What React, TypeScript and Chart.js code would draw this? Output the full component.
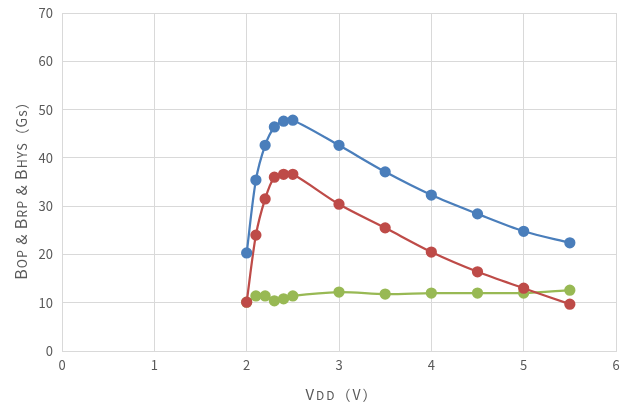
import React, { useEffect, useRef } from "react";
import { Chart, registerables } from "chart.js";
Chart.register(...registerables);

const vdd = [2, 2.1, 2.2, 2.3, 2.4, 2.5, 3, 3.5, 4, 4.5, 5, 5.5];
const bop = [20.3, 35.4, 42.6, 46.4, 47.6, 47.8, 42.6, 37.1, 32.3, 28.4, 24.8, 22.4];
const brp = [10.1, 24.0, 31.5, 36.0, 36.6, 36.6, 30.4, 25.5, 20.5, 16.4, 13.0, 9.7];
const bhys = [10.1, 11.4, 11.4, 10.4, 10.8, 11.4, 12.2, 11.8, 12.0, 12.0, 12.0, 12.6];

const FONT = "'Noto Sans CJK SC', 'Noto Sans', sans-serif";
const TXT = "#595959";

const yTitle: [string, number][] = [
  ["B", 16], ["OP", 12.5], [" & ", 15], ["B", 16], ["RP", 12.5], [" & ", 15], ["B", 16], ["HYS", 12.5], ["（Gs）", 14],
];
const xTitle: [string, number][] = [["V", 15], ["DD", 12], ["（V）", 14]];

function drawSegs(ctx: CanvasRenderingContext2D, segs: [string, number][], spacing: number) {
  (ctx as any).letterSpacing = `${spacing}px`;
  let total = 0;
  for (const [t, s] of segs) {
    ctx.font = `${s}px ${FONT}`;
    total += ctx.measureText(t).width;
  }
  let x = -total / 2;
  ctx.textBaseline = "alphabetic";
  ctx.textAlign = "left";
  for (const [t, s] of segs) {
    ctx.font = `${s}px ${FONT}`;
    ctx.fillText(t, x, 0);
    x += ctx.measureText(t).width;
  }
  (ctx as any).letterSpacing = "0px";
}

const titlesPlugin = {
  id: "titles",
  afterDraw(chart: any) {
    const ctx = chart.ctx as CanvasRenderingContext2D;
    const a = chart.chartArea;
    ctx.save();
    ctx.fillStyle = TXT;
    ctx.translate(27, (a.top + a.bottom) / 2 + 5);
    ctx.rotate(-Math.PI / 2);
    drawSegs(ctx, yTitle, 1);
    ctx.restore();
    ctx.save();
    ctx.fillStyle = TXT;
    ctx.translate((a.left + a.right) / 2 + 3, 400);
    drawSegs(ctx, xTitle, 2);
    ctx.restore();
  },
};

function mk(label: string, data: number[], color: string) {
  return {
    label,
    data: vdd.map((x, i) => ({ x, y: data[i] })),
    borderColor: color,
    backgroundColor: color,
    borderWidth: 2.25,
    pointRadius: 4.5,
    pointHoverRadius: 4.5,
    showLine: true,
    tension: 0.3,
  };
}

export default function App() {
  const ref = useRef<HTMLCanvasElement>(null);
  useEffect(() => {
    const chart = new Chart(ref.current!, {
      type: "scatter",
      data: {
        datasets: [
          mk("BOP", bop, "#4A7EBB"),
          mk("BRP", brp, "#BE4B48"),
          mk("BHYS", bhys, "#98B954"),
        ],
      },
      options: {
        animation: false,
        responsive: false,
        layout: { padding: { top: 13, right: 18, left: 0, bottom: 0 } },
        plugins: { legend: { display: false }, tooltip: { enabled: false } },
        scales: {
          x: {
            type: "linear",
            min: 0,
            max: 6,
            ticks: { stepSize: 1, color: TXT, font: { size: 13, family: FONT }, padding: 6 },
            grid: { color: "#D9D9D9", lineWidth: 1, drawTicks: false },
            border: { color: "#D9D9D9" },
            afterFit: (s: any) => { s.height = 57; s.paddingLeft = 0; s.paddingRight = 0; },
          },
          y: {
            min: 0,
            max: 70,
            ticks: { stepSize: 10, color: TXT, font: { size: 13, family: FONT }, padding: 9 },
            grid: { color: "#D9D9D9", lineWidth: 1, drawTicks: false },
            border: { color: "#D9D9D9" },
            afterFit: (s: any) => { s.width = 62; s.paddingTop = 0; s.paddingBottom = 0; },
          },
        },
      },
      plugins: [titlesPlugin],
    });
    return () => chart.destroy();
  }, []);
  return (
    <div style={{ position: "fixed", left: 0, top: 0, width: 634, height: 408, background: "#fff" }}>
      <canvas ref={ref} width={634} height={408} />
    </div>
  );
}
